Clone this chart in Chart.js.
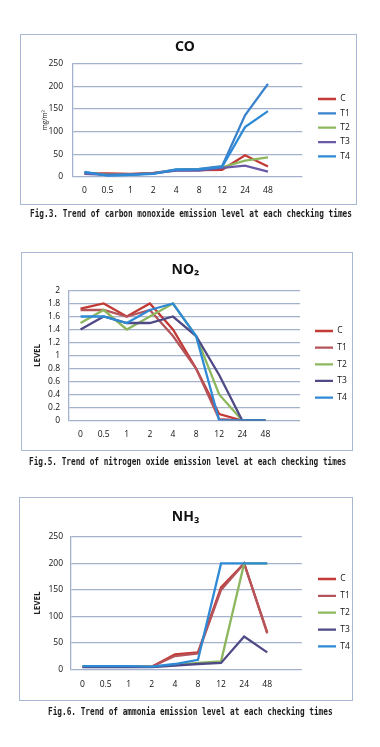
<!DOCTYPE html>
<html lang="en">
<head>
<meta charset="UTF-8">
<title>Emission trends</title>
<script src="https://cdn.jsdelivr.net/npm/chart.js"></script>
<style>
  body { margin: 0; background: #fff; width: 380px; height: 747px; position: relative; overflow: hidden; }
  canvas { position: absolute; }
  .box { position: absolute; border: 1.5px solid #a9b8d2; box-sizing: border-box; pointer-events: none; }
  .cap { position: absolute; white-space: nowrap; font-family: "DejaVu Sans Mono", monospace; font-weight: bold;
         font-size: 10px; line-height: 12px; color: #1c1c1c; transform-origin: 0 50%; transform: scaleX(0.775); }
</style>
</head>
<body>
  <canvas id="co" width="337" height="171" style="left:20px;top:34px"></canvas>
  <div class="box" style="left:20px;top:34px;width:337px;height:171px"></div>
  <div class="cap" style="left:30px;top:208px">Fig.3. Trend of carbon monoxide emission level at each checking times</div>

  <canvas id="no2" width="332" height="199" style="left:21px;top:252px"></canvas>
  <div class="box" style="left:21px;top:252px;width:332px;height:199px"></div>
  <div class="cap" style="left:29px;top:456px">Fig.5. Trend of nitrogen oxide emission level at each checking times</div>

  <canvas id="nh3" width="334" height="204" style="left:19px;top:497px"></canvas>
  <div class="box" style="left:19px;top:497px;width:334px;height:204px"></div>
  <div class="cap" style="left:48px;top:706px">Fig.6. Trend of ammonia emission level at each checking times</div>

<script>
// checking times (h) and treatments
const times = ['0', '0.5', '1', '2', '4', '8', '12', '24', '48'];
const groups = ['C', 'T1', 'T2', 'T3', 'T4'];

// CO, mg/m3
const coC  = [8, 8, 7, 9, 15, 15, 16, 48, 23];
const coT1 = [10, 4, 5, 8, 17, 18, 24, 136, 205];
const coT2 = [8, 6, 6, 8, 15, 16, 21, 36, 43];
const coT3 = [7, 5, 6, 8, 14, 14, 20, 25, 12];
const coT4 = [11, 3, 5, 7, 16, 17, 22, 110, 145];
const coTicks = [0, 50, 100, 150, 200, 250];

// NO2 level
const no2C  = [1.72, 1.8, 1.6, 1.8, 1.4, 0.8, 0.1, 0, 0];
const no2T1 = [1.7, 1.7, 1.6, 1.7, 1.3, 0.8, 0.02, 0, 0];
const no2T2 = [1.5, 1.7, 1.4, 1.6, 1.8, 1.3, 0.4, 0, 0];
const no2T3 = [1.4, 1.6, 1.5, 1.5, 1.6, 1.3, 0.7, 0, 0];
const no2T4 = [1.6, 1.6, 1.5, 1.7, 1.8, 1.3, 0, 0, 0];
const no2Ticks = [0, 0.2, 0.4, 0.6, 0.8, 1, 1.2, 1.4, 1.6, 1.8, 2];

// NH3 level
const nh3C  = [5, 5, 5, 5, 28, 32, 155, 200, 70];
const nh3T1 = [5, 5, 5, 5, 25, 30, 150, 200, 68];
const nh3T2 = [5, 5, 5, 5, 8, 12, 15, 200, 200];
const nh3T3 = [4, 4, 4, 4, 7, 10, 12, 62, 32];
const nh3T4 = [6, 6, 6, 5, 10, 18, 200, 200, 200];
const nh3Ticks = [0, 50, 100, 150, 200, 250];

const red = '#c23a35', blue = '#2f8ad6', green = '#8db75f', purple = '#6a5aa8', navy = '#4f4a86';

// put the legend where the picture has it (line start x, first row centre y)
const legendPlace = {
  id: 'legendPlace',
  afterLayout(chart, args, opts) {
    const L = chart.legend;
    if (!L || opts.x == null) return;
    const pad = L.options.labels.padding, fs = L.options.labels.font.size;
    const w = L.width, h = L.height;
    L.left = opts.x - pad; L.right = L.left + w;
    L.top = opts.y - pad - fs / 2; L.bottom = L.top + h;
  }
};

function makeChart(id, o) {
  const ticks = o.ticks;
  new Chart(document.getElementById(id), {
    type: 'line',
    data: {
      labels: [...times, ''],
      datasets: groups.map((g, i) => ({
        label: g, data: o.data[i], borderColor: o.colors[i], backgroundColor: o.colors[i],
        borderWidth: 2.3, pointRadius: 0, tension: 0, order: groups.length - i
      }))
    },
    options: {
      responsive: false, animation: false, devicePixelRatio: 1,
      layout: { padding: { left: 0, top: 0, bottom: 0, right: o.padRight } },
      plugins: {
        title: { display: true, text: o.title, color: '#111',
                 font: { family: 'Noto Sans', size: 14, weight: 'bold' }, padding: o.titlePad },
        legend: { position: 'right', align: 'start',
                  labels: { usePointStyle: true, pointStyle: 'line', pointStyleWidth: 18, padding: o.legendGap,
                            color: '#111', font: { family: 'Open Sans', size: 8.5 },
                            sort: (a, b) => a.datasetIndex - b.datasetIndex } },
        legendPlace: o.legendAt,
        tooltip: { enabled: false }
      },
      scales: {
        x: {
          offset: true,
          grid: { display: false, drawTicks: false }, border: { display: false },
          ticks: { color: '#111', padding: o.xPad, maxRotation: 0, autoSkip: false,
                   font: { family: 'Open Sans', size: 8.5 } },
          afterFit: s => { s.height = o.xH; }
        },
        y: {
          min: ticks[0], max: ticks[ticks.length - 1],
          afterBuildTicks: s => { s.ticks = ticks.map(v => ({ value: v })); },
          grid: { color: '#a3b1cc', lineWidth: 1.3, drawTicks: false },
          border: { display: true, color: '#a3b1cc', width: 1.3 },
          ticks: { color: '#111', padding: o.yPad, autoSkip: false, callback: v => String(v),
                   font: { family: 'Open Sans', size: 8.5 } },
          title: { display: true, text: o.yTitle, color: '#222', font: o.yFont, padding: { top: o.yTitleX, bottom: 0 } },
          afterFit: s => { s.width = o.yW; }
        }
      }
    },
    plugins: [legendPlace]
  });
}

makeChart('co', {
  title: 'CO', data: [coC, coT1, coT2, coT3, coT4], ticks: coTicks,
  colors: [red, '#3a82cc', green, purple, blue],
  yTitle: 'mg/m³', yFont: { family: 'Open Sans', size: 6.5 }, yTitleX: 21,
  yW: 53, yPad: 10, xH: 28, xPad: 8, padRight: 7,
  titlePad: { top: 4.6, bottom: 8.1 }, legendGap: 5.85, legendAt: { x: 298, y: 65 }
});

makeChart('no2', {
  title: 'NO₂', data: [no2C, no2T1, no2T2, no2T3, no2T4], ticks: no2Ticks,
  colors: [red, '#b5545a', green, navy, blue],
  yTitle: 'LEVEL', yFont: { family: 'Open Sans', size: 8, weight: 'bold' }, yTitleX: 12,
  yW: 48, yPad: 9, xH: 30.5, xPad: 8.5, padRight: 3,
  titlePad: { top: 9.6, bottom: 12.1 }, legendGap: 8.15, legendAt: { x: 294, y: 79 }
});

makeChart('nh3', {
  title: 'NH₃', data: [nh3C, nh3T1, nh3T2, nh3T3, nh3T4], ticks: nh3Ticks,
  colors: [red, '#b5545a', green, navy, blue],
  yTitle: 'LEVEL', yFont: { family: 'Open Sans', size: 8, weight: 'bold' }, yTitleX: 14,
  yW: 52, yPad: 8, xH: 31.7, xPad: 9.7, padRight: 1,
  titlePad: { top: 11.6, bottom: 11.6 }, legendGap: 8.35, legendAt: { x: 299, y: 82 }
});
</script>
</body>
</html>
